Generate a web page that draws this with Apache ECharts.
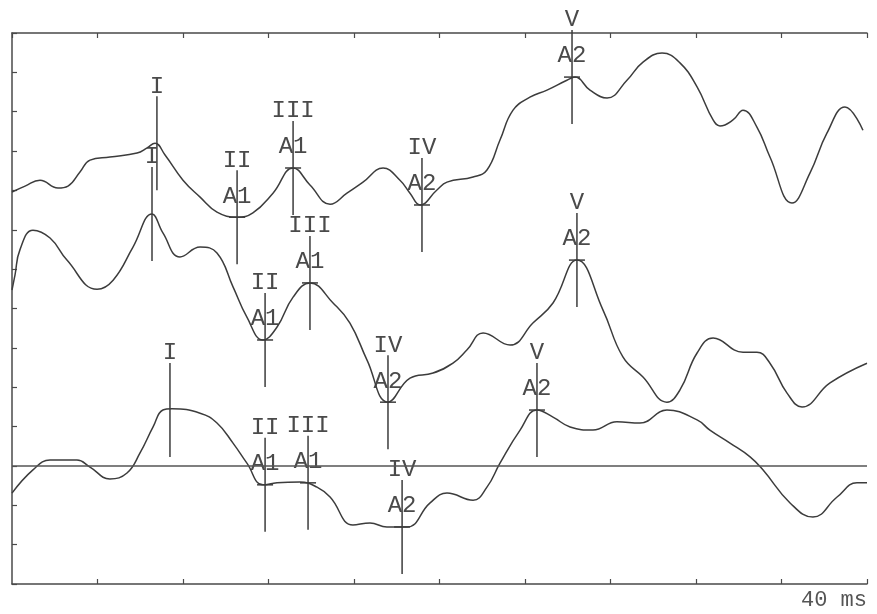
<!DOCTYPE html>
<html>
<head>
<meta charset="utf-8">
<script src="https://cdn.jsdelivr.net/npm/echarts@6/dist/echarts.min.js"></script>
<style>
  html, body { margin: 0; padding: 0; background: #fff; }
  #chart { width: 877px; height: 614px; }
</style>
</head>
<body>
<div id="chart"></div>
<script>
// waveforms, [latency ms, amplitude]
const traceTop = [[0,9.96],[0.61,10.11],[1.31,10.26],[2.15,10.06],[2.62,10.11],[3.18,10.47],[3.65,10.77],[4.58,10.85],[5.85,10.95],[6.32,11.08],[6.69,11.2],[7.16,10.9],[8.0,10.26],[8.8,9.83],[9.59,9.45],[10.53,9.32],[11.27,9.43],[12.21,9.93],[13.15,10.57],[13.94,10.14],[14.88,9.65],[15.67,9.93],[16.42,10.21],[17.36,10.57],[18.15,10.26],[18.62,9.93],[19.09,9.63],[19.88,10.01],[20.35,10.21],[21.57,10.34],[22.22,10.52],[22.83,11.28],[23.44,12.04],[24.23,12.37],[25.03,12.55],[25.96,12.8],[26.34,12.88],[27.04,12.55],[27.84,12.35],[28.77,12.8],[29.52,13.26],[30.41,13.49],[31.25,13.24],[32.05,12.63],[32.8,11.79],[33.12,11.64],[33.73,11.79],[34.2,12.04],[34.85,11.61],[35.46,10.85],[36.49,9.68],[37.33,10.44],[38.13,11.46],[38.97,12.12],[39.81,11.53]];
const traceMid = [[0,7.47],[0.14,7.85],[0.37,8.49],[0.98,8.99],[1.78,8.79],[2.57,8.23],[3.98,7.49],[4.73,7.72],[5.66,8.56],[6.55,9.4],[7.06,8.92],[7.86,8.31],[8.8,8.56],[9.59,8.41],[10.34,7.55],[10.99,6.78],[11.74,6.2],[12.4,6.53],[13.15,7.29],[13.94,7.65],[15.02,7.14],[15.81,6.63],[16.61,5.69],[17.59,4.62],[18.62,5.23],[19.7,5.36],[20.63,5.61],[21.29,5.95],[22.04,6.38],[23.3,6.07],[24.37,6.63],[25.31,7.14],[26.43,8.23],[27.65,6.96],[28.58,5.77],[29.52,5.26],[30.64,4.62],[31.25,4.93],[32.05,5.87],[32.8,6.25],[34.2,5.89],[34.85,5.89],[35.46,5.61],[36.26,4.85],[36.96,4.5],[38.27,5.11],[40,5.61]];
const traceLow = [[0,2.31],[0.98,2.9],[1.78,3.15],[3.04,3.15],[3.65,2.97],[4.58,2.67],[5.38,2.82],[5.99,3.33],[6.6,3.99],[7.06,4.42],[7.49,4.45],[8.8,4.34],[9.59,4.09],[10.34,3.58],[10.99,3.07],[11.74,2.52],[12.4,2.57],[13.47,2.59],[14.27,2.46],[14.88,2.21],[15.95,1.5],[16.75,1.55],[17.54,1.45],[18.48,1.45],[19.56,2.06],[20.35,2.31],[21.57,2.13],[22.22,2.46],[22.83,3.07],[23.77,3.91],[24.56,4.42],[25.31,4.24],[26.11,3.99],[27.18,3.91],[28.3,4.12],[29.38,4.09],[30.64,4.42],[32.05,4.17],[32.65,3.91],[33.59,3.58],[34.53,3.23],[35.13,2.9],[36.4,2.06],[37.47,1.7],[38.6,2.21],[39.53,2.57],[40,2.57]];

// peak marks
const peakNames = ['I', 'II', 'III', 'IV', 'V'];
const peakSubs = ['', 'A1', 'A1', 'A2', 'A2'];
const peaksTop = [[6.78,11.2],[10.53,9.32],[13.15,10.57],[19.18,9.63],[26.2,12.88]];
const peaksMid = [[6.55,9.4],[11.84,6.2],[13.94,7.65],[17.59,4.62],[26.43,8.23]];
const peaksLow = [[7.39,4.42],[11.84,2.52],[13.85,2.57],[18.25,1.45],[24.56,4.42]];

const baseline = 3;
const xTicks = [0, 40, 4];   // min, max, step (ms)
const yTicks = [0, 14, 1];

const ink = '#3c3c3c';
const font = '"Liberation Mono", "DejaVu Sans Mono", monospace';

let chart = echarts.init(document.getElementById('chart'));

function markRender(params, api) {
    let p = api.coord([api.value(0), api.value(1)]);
    let i = params.dataIndex;
    let kids = [{
        type: 'line',
        shape: { x1: p[0], y1: p[1] - 47, x2: p[0], y2: p[1] + 47 },
        style: { stroke: ink, lineWidth: 1.5 }
    }, {
        type: 'text',
        style: {
            x: p[0], y: p[1] - 57, text: peakNames[i],
            align: 'center', verticalAlign: 'middle',
            font: '24px ' + font, fill: '#4a4a4a'
        }
    }];
    if (peakSubs[i]) {
        kids.push({
            type: 'line',
            shape: { x1: p[0] - 8, y1: p[1], x2: p[0] + 8, y2: p[1] },
            style: { stroke: ink, lineWidth: 1.5 }
        });
        kids.push({
            type: 'text',
            style: {
                x: p[0], y: p[1] - 21, text: peakSubs[i],
                align: 'center', verticalAlign: 'middle',
                font: '24px ' + font, fill: '#4a4a4a'
            }
        });
    }
    return { type: 'group', children: kids };
}

function traceSeries(data) {
    return {
        type: 'line',
        data: data,
        smooth: 0.45,
        symbol: 'none',
        lineStyle: { color: ink, width: 1.5 },
        silent: true
    };
}

function markSeries(data) {
    return {
        type: 'custom',
        data: data,
        renderItem: markRender,
        silent: true
    };
}

let axisStyle = { lineStyle: { color: '#4a4a4a', width: 1.5 } };
let tickStyle = { show: true, inside: true, length: 5, lineStyle: { color: '#4a4a4a', width: 1.2 } };

let option = {
    animation: false,
    backgroundColor: '#fff',
    grid: { left: 12, right: 10, top: 33, bottom: 30 },
    xAxis: [{
        type: 'value',
        min: xTicks[0], max: xTicks[1], interval: xTicks[2],
        position: 'bottom',
        axisLine: axisStyle,
        axisTick: tickStyle,
        splitLine: { show: false },
        axisLabel: {
            showMaxLabel: true,
            showMinLabel: false,
            margin: 5,
            align: 'right',
            fontFamily: font,
            fontSize: 22,
            color: '#555',
            formatter: function (v) { return v === xTicks[1] ? v + ' ms' : ''; }
        }
    }, {
        type: 'value',
        min: xTicks[0], max: xTicks[1], interval: xTicks[2],
        position: 'top',
        axisLine: axisStyle,
        axisTick: tickStyle,
        splitLine: { show: false },
        axisLabel: { show: false }
    }],
    yAxis: {
        type: 'value',
        min: yTicks[0], max: yTicks[1], interval: yTicks[2],
        axisLine: { show: true, lineStyle: { color: '#4a4a4a', width: 1.5 } },
        axisTick: tickStyle,
        splitLine: { show: false },
        axisLabel: { show: false }
    },
    series: [
        traceSeries(traceTop),
        traceSeries(traceMid),
        Object.assign(traceSeries(traceLow), {
            markLine: {
                silent: true,
                symbol: 'none',
                label: { show: false },
                lineStyle: { color: '#555', width: 1.5, type: 'solid' },
                data: [{ yAxis: baseline }]
            }
        }),
        markSeries(peaksTop),
        markSeries(peaksMid),
        markSeries(peaksLow)
    ]
};

chart.setOption(option);
window.addEventListener('resize', function () {
    chart.resize();
});
</script>
</body>
</html>
